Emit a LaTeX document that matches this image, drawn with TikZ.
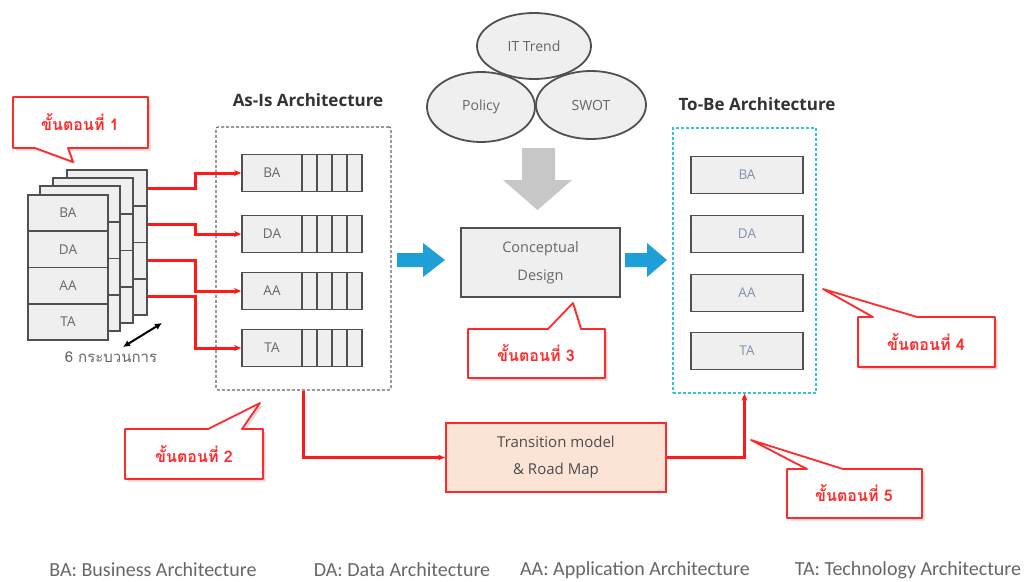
\documentclass[tikz,border=0pt]{standalone}
\usepackage{fontspec}
\setmainfont{Open Sans}
\newfontfamily\thaifont[Script=Thai]{Loma}
\newfontfamily\legfont{Carlito}
\usetikzlibrary{arrows.meta,calc,shapes.geometric}
\definecolor{boxfill}{HTML}{EFEFEF}
\definecolor{boxline}{HTML}{505050}
\definecolor{redl}{HTML}{FF2A2A}
\definecolor{txtgray}{HTML}{666666}
\definecolor{tobetxt}{HTML}{7F93AE}
\definecolor{cyanl}{HTML}{35C4D6}
\definecolor{bluearr}{HTML}{1E9FD8}
\definecolor{peach}{HTML}{FBE3D6}
\tikzset{
  docrow/.style={draw=boxline,fill=boxfill,line width=1.6pt,inner sep=0pt,minimum width=80pt,minimum height=36.25pt,text=txtgray,font=\fontsize{13.5}{15}\selectfont},
  labbox/.style={draw=boxline,fill=boxfill,line width=1.8pt,inner sep=0pt,minimum width=60pt,minimum height=37pt,text=txtgray,font=\fontsize{13.5}{15}\selectfont},
  cellbox/.style={draw=boxline,fill=boxfill,line width=1.8pt,inner sep=0pt,minimum width=15pt,minimum height=37pt},
  tobebox/.style={draw=boxline,fill=boxfill,line width=1.8pt,inner sep=0pt,minimum width=112pt,minimum height=37pt,text=tobetxt,font=\fontsize{13.5}{15}\selectfont},
  ellnode/.style={ellipse,inner sep=0pt,text=txtgray,font=\fontsize{14}{16}\selectfont},
  redline/.style={draw=red!90!white,line width=3pt},
  redarrow/.style={redline,-{Stealth[length=7pt,width=6pt]}},
  callout/.style={draw=redl,line width=1.8pt,fill=white,line join=round},
  calloutshadow/.style={fill=black,opacity=0.15},
  calltext/.style={text=redl,font=\thaifont\bfseries\fontsize{16}{18}\selectfont},
  titletext/.style={text=black!80,font=\bfseries\fontsize{17}{19}\selectfont},
  legtext/.style={text=txtgray,font=\legfont\fontsize{20}{22}\selectfont},
  mydash/.style={dash pattern=on 3pt off 2pt},
}
\newcommand{\mycallout}[1]{%
  \begin{scope}[shift={(2.5,2.5)}]\fill[calloutshadow] #1;\end{scope}
  \path[callout] #1;}
\begin{document}
\begin{tikzpicture}[x=1pt,y=-1pt]
\useasboundingbox (0,0) rectangle (1030,581);

% ---------- stacked documents ----------
\foreach \k/\dx/\dy in {3/39/-25,2/25/-17,1/12/-9}{
  \foreach \i in {0,1,2,3}{
    \node[docrow] (L\k-\i) at (68+\dx,213.125+\i*36.25+\dy) {};
  }
}
\foreach \i/\t in {0/BA,1/DA,2/AA,3/TA}{
  \node[docrow] (L0-\i) at (68,213.125+\i*36.25) {\t};
}
\coordinate (dA) at (123,347);
\coordinate (dB) at (162,323);
\draw[line width=2pt,{Latex[length=7pt,width=7pt]}-{Latex[length=7pt,width=7pt]}] (dA) -- (dB);
\node[text=txtgray,font=\thaifont\fontsize{15}{17}\selectfont] (sixp) at (111,357) {6 กระบวนการ};

% ---------- As-Is ----------
\node[draw=black!60,mydash,line width=1.1pt,rounded corners=2pt,minimum width=175pt,minimum height=263pt,inner sep=0pt] (asis) at (303.5,258.5) {};
\node[titletext] (astitle) at (308,100) {As-Is Architecture};
\foreach \n/\y in {BA/173,DA/234,AA/291,TA/348}{
  \node[labbox] (as\n) at (272,\y) {\n};
  \foreach \j in {0,1,2,3}{
    \node[cellbox] (as\n-\j) at (309.5+15*\j,\y) {};
  }
}
% connectors from stack
\draw[redarrow] (L3-0.east) -- ++(48,0) |- (asBA.west);
\draw[redarrow] (L3-1.east) -- ++(48,0) |- (asDA.west);
\draw[redarrow] (L3-2.east) -- ++(48,0) |- (asAA.west);
\draw[redarrow] (L3-3.east) -- ++(48,0) |- (asTA.west);

% ---------- ellipses ----------
\node[ellnode,fill=boxfill,minimum width=114pt,minimum height=66pt] (itt) at (534,46) {};
\node[ellnode,fill=boxfill,minimum width=108pt,minimum height=70pt] (pol) at (481,107) {};
\node[ellnode,fill=boxfill,minimum width=110pt,minimum height=68pt] (swot) at (591,105) {};
\node[ellnode,draw=boxline,line width=1.8pt,minimum width=114pt,minimum height=66pt] (ittb) at (534,46) {IT Trend};
\node[ellnode,draw=boxline,line width=1.8pt,minimum width=108pt,minimum height=70pt] (polb) at (481,107) {Policy};
\node[ellnode,draw=boxline,line width=1.8pt,minimum width=110pt,minimum height=68pt] (swotb) at (591,105) {SWOT};

% gray down arrow
\fill[black!22] (522,148) -- (555,148) -- (555,180) -- (572,180) -- (537.5,210) -- (503,180) -- (522,180) -- cycle;

% ---------- Conceptual design ----------
\node[draw=boxline,fill=boxfill,line width=1.9pt,minimum width=159pt,minimum height=69pt,inner sep=0pt,align=center,text=txtgray,font=\fontsize{14.5}{28}\selectfont] (cd) at (540.5,262.5) {Conceptual\\Design};

% blue arrows
\fill[bluearr] (397,253) -- (423,253) -- (423,243) -- (445,260) -- (423,277) -- (423,267) -- (397,267) -- cycle;
\fill[bluearr] (625,253) -- (647,253) -- (647,243) -- (667,260) -- (647,277) -- (647,267) -- (625,267) -- cycle;

% ---------- To-Be ----------
\node[draw=cyanl,mydash,line width=1.3pt,minimum width=143pt,minimum height=265pt,inner sep=0pt] (tobe) at (744.5,260.5) {};
\node[titletext] (tbtitle) at (757,104) {To-Be Architecture};
\foreach \n/\y in {BA/175,DA/234,AA/293,TA/351}{
  \node[tobebox] (tb\n) at (747,\y) {\n};
}

% ---------- Transition ----------
\node[draw=redl,fill=peach,line width=2.2pt,minimum width=220pt,minimum height=69pt,inner sep=0pt,align=center,text=black!70,font=\fontsize{15}{27}\selectfont] (trans) at (556,457.5) {Transition model\\\& Road Map};
\draw[redarrow] (asis.south) |- (trans.west);
\draw[redarrow] (trans.east) -| (tobe.south);

% ---------- callouts ----------
\mycallout{(13,97) -- (148,97) -- (148,148) -- (68,148) -- (73,162) -- (35,148) -- (13,148) -- cycle}
\node[calltext] (c1) at (80,122) {ขั้นตอนที่ 1};
\mycallout{(125,429) -- (208,429) -- (260,403) -- (242,429) -- (263,429) -- (263,479) -- (125,479) -- cycle}
\node[calltext] (c2) at (194,454) {ขั้นตอนที่ 2};
\mycallout{(468,329) -- (548,329) -- (573,303) -- (581,329) -- (605,329) -- (605,378) -- (468,378) -- cycle}
\node[calltext] (c3) at (536,353) {ขั้นตอนที่ 3};
\mycallout{(858,317) -- (873,317) -- (823,289) -- (917,317) -- (995,317) -- (995,367) -- (858,367) -- cycle}
\node[calltext] (c4) at (926,342) {ขั้นตอนที่ 4};
\mycallout{(787,469) -- (807,469) -- (751,440) -- (843,469) -- (922,469) -- (922,518) -- (787,518) -- cycle}
\node[calltext] (c5) at (854,493) {ขั้นตอนที่ 5};

% ---------- legend ----------
\node[legtext] (lg1) at (153,570) {BA: Business Architecture};
\node[legtext] (lg2) at (402,570) {DA: Data Architecture};
\node[legtext] (lg3) at (635,570) {AA: Application Architecture};
\node[legtext] (lg4) at (908,570) {TA: Technology Architecture};
\end{tikzpicture}
\end{document}
